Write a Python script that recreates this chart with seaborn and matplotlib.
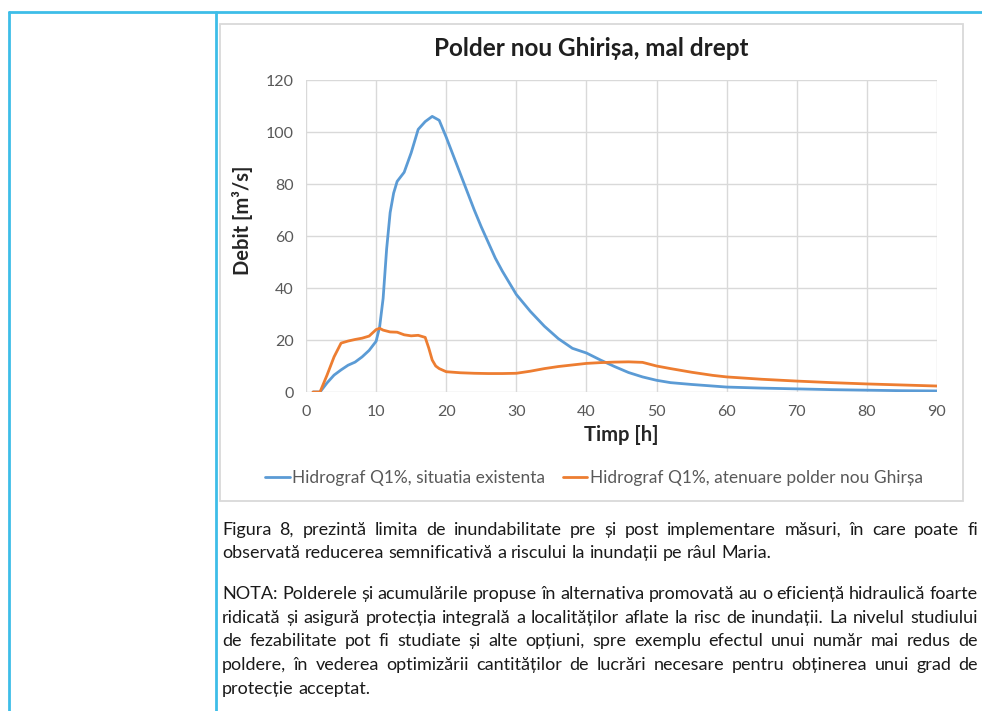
import numpy as np
import pandas as pd
import matplotlib
matplotlib.use('Agg')
import matplotlib.pyplot as plt
import seaborn as sns

# -------------------------
# Date
# -------------------------
t_exist = [1, 2, 3, 4, 5, 6, 7, 8, 9, 10, 10.5, 11, 11.5, 12, 12.5, 13, 14, 15, 16, 17,
           18, 19, 20, 21, 22, 23, 24, 25, 26, 27, 28, 30, 32, 34, 36, 38, 40, 42, 44,
           46, 48, 50, 52, 55, 60, 65, 70, 75, 80, 85, 90]
q_exist = [0, 0, 3.5, 6.5, 8.5, 10.3, 11.5, 13.5, 16, 19.5, 25, 36, 55, 69, 76.5, 81,
           84.5, 92, 101, 104, 106, 104.5, 98, 91, 84, 77, 70, 63.5, 57.5, 51.5, 46.5,
           37.5, 31, 25.3, 20.5, 16.8, 15, 12.3, 9.8, 7.5, 5.8, 4.5, 3.6, 2.9, 1.9, 1.5,
           1.2, 0.9, 0.7, 0.5, 0.4]

t_polder = [1, 2, 3, 4, 5, 6, 7, 8, 9, 10, 10.5, 11, 12, 13, 14, 15, 16, 17, 17.5, 18,
            18.5, 19, 20, 22, 24, 26, 28, 30, 32, 34, 36, 38, 40, 42, 44, 46, 48, 50, 52,
            55, 58, 60, 65, 70, 75, 80, 85, 90]
q_polder = [0, 0, 6.5, 13.5, 18.8, 19.6, 20.2, 20.7, 21.5, 24, 24.5, 23.8, 23.1, 23, 22,
            21.6, 21.8, 21, 17, 12.3, 10, 9, 7.8, 7.4, 7.2, 7.1, 7.1, 7.2, 8, 9, 9.8,
            10.4, 11, 11.3, 11.5, 11.6, 11.4, 10, 9, 7.6, 6.4, 5.8, 4.9, 4.2, 3.6, 3.1,
            2.7, 2.3]

lbl_exist  = 'Hidrograf Q1%, situatia existenta'
lbl_polder = 'Hidrograf Q1%, atenuare polder nou Ghirșa'

x_ticks = list(range(0, 91, 10))
y_ticks = list(range(0, 121, 20))

# text document
para1 = [
    ('Figura 8, prezintă limita de inundabilitate pre și post implementare măsuri, în care poate fi', True),
    ('observată reducerea semnificativă a riscului la inundații pe râul Maria.', False),
]
para2 = [
    ('NOTA: Polderele și acumulările propuse în alternativa promovată au o eficiență hidraulică foarte', True),
    ('ridicată și asigură protecția integrală  a localităților aflate la risc de inundații. La nivelul studiului', True),
    ('de fezabilitate pot fi studiate și alte opțiuni, spre exemplu efectul unui număr mai redus de', True),
    ('poldere, în vederea optimizării cantităților de lucrări necesare pentru obținerea unui grad de', True),
    ('protecție acceptat.', False),
]

# -------------------------
# Stil
# -------------------------
sns.set_theme(style='whitegrid')
plt.rcParams['font.family'] = ['Lato', 'DejaVu Sans']

W, H = 982, 711
BLUE = '#5B9BD5'
ORANGE = '#ED7D31'
GRID = '#D9D9D9'
TXT = '#595959'
CYAN = '#3DBDE8'

fig = plt.figure(figsize=(W / 100, H / 100), dpi=100)
fig.patch.set_facecolor('white')

def fx(px):
    return px / W

def fy(py):
    return 1 - py / H

# chenarele tabelului
fig.add_artist(plt.Line2D([fx(9), fx(982)], [fy(12), fy(12)], color=CYAN, lw=2))
fig.add_artist(plt.Line2D([fx(9), fx(9)], [fy(12), fy(711)], color=CYAN, lw=2))
fig.add_artist(plt.Line2D([fx(216), fx(216)], [fy(12), fy(711)], color=CYAN, lw=2))

# chenarul graficului
fig.add_artist(plt.Rectangle((fx(220), fy(501)), fx(963) - fx(220), fy(24) - fy(501),
                             fill=False, edgecolor=GRID, lw=1.3))

# -------------------------
# Grafic
# -------------------------
ax = fig.add_axes([fx(306), fy(392), fx(937) - fx(306), fy(80) - fy(392)])
df_e = pd.DataFrame({'t': t_exist, 'q': q_exist})
df_p = pd.DataFrame({'t': t_polder, 'q': q_polder})
sns.lineplot(data=df_e, x='t', y='q', ax=ax, color=BLUE, lw=2.0, label=lbl_exist)
sns.lineplot(data=df_p, x='t', y='q', ax=ax, color=ORANGE, lw=2.0, label=lbl_polder)

ax.set_xlim(0, 90)
ax.set_ylim(0, 120)
ax.set_xticks(x_ticks)
ax.set_yticks(y_ticks)
ax.grid(True, color=GRID, lw=1.0)
ax.set_facecolor('white')
for s in ax.spines.values():
    s.set_visible(False)
ax.tick_params(axis='both', length=0, labelsize=11.5, labelcolor=TXT, pad=9)
ax.set_xlabel('Timp [h]', fontsize=14.5, fontweight='bold', color='#262626', labelpad=5)
ax.set_ylabel('Debit [m³/s]', fontsize=14.5, fontweight='bold', color='#262626', labelpad=9)
ax.yaxis.label.set_y(0.55)

handles, labels = ax.get_legend_handles_labels()
ax.get_legend().remove()
fig.legend(handles, labels, loc='center', bbox_to_anchor=(fx(594), fy(478)), ncol=2,
           frameon=False, fontsize=12.5, labelcolor=TXT, handlelength=1.4,
           handletextpad=0.15, columnspacing=1.0)

fig.text(fx(591), fy(48), 'Polder nou Ghirișa, mal drept', ha='center', va='center',
         fontsize=17.5, fontweight='bold', color='#1F1F1F')

# -------------------------
# Text justificat sub grafic
# -------------------------
LEFT, RIGHT = 222, 978
FS = 13
renderer = fig.canvas.get_renderer()

def put_line(line, y_px, justify):
    words = line.split()
    texts = [fig.text(0, 0, w, fontsize=FS, color='#1A1A1A', va='center') for w in words]
    widths = [t.get_window_extent(renderer).width for t in texts]
    probe = fig.text(0, 0, 'a a', fontsize=FS)
    probe2 = fig.text(0, 0, 'aa', fontsize=FS)
    space = probe.get_window_extent(renderer).width - probe2.get_window_extent(renderer).width
    probe.remove()
    probe2.remove()
    if justify and len(words) > 1:
        gap = (RIGHT - LEFT - sum(widths)) / (len(words) - 1)
    else:
        gap = space
    x = LEFT
    for t, w in zip(texts, widths):
        t.set_position((fx(x), fy(y_px)))
        x += w + gap

ys1 = [530, 553]
ys2 = [594, 618, 641, 665, 689]
for (line, just), y in zip(para1, ys1):
    put_line(line, y, just)
for (line, just), y in zip(para2, ys2):
    put_line(line, y, just)

fig.savefig('out.png', dpi=100, facecolor='white')
